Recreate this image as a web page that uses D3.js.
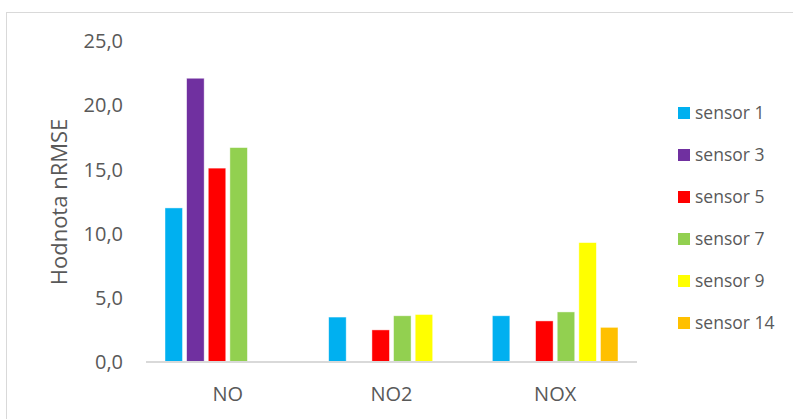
<!DOCTYPE html>
<html>
<head>
<meta charset="utf-8">
<script src="https://cdn.jsdelivr.net/npm/d3@7"></script>
<style>
  body { margin: 0; background: #fff; }
  text { font-family: "Open Sans", "Noto Sans", sans-serif; fill: #595959; }
</style>
</head>
<body>
<svg id="chart" width="793" height="419"></svg>
<script>
// categories and series (null = no bar)
var categories = ["NO", "NO2", "NOX"];
var sensors = ["sensor 1", "sensor 3", "sensor 5", "sensor 7", "sensor 9", "sensor 14"];
var sensor1 = [12.0, 3.5, 3.6];
var sensor3 = [22.1, null, null];
var sensor5 = [15.1, 2.5, 3.2];
var sensor7 = [16.7, 3.6, 3.9];
var sensor9 = [null, 3.7, 9.3];
var sensor14 = [null, null, 2.7];
var yTicks = [0, 5, 10, 15, 20, 25];
var colors = ["#00B0F0", "#7030A0", "#FF0000", "#92D050", "#FFFF00", "#FFC000"];

var series = [sensor1, sensor3, sensor5, sensor7, sensor9, sensor14];

var svg = d3.select("#chart");

// ramecek grafu
svg.append("rect")
    .attr("x", 6.5).attr("y", 12.5)
    .attr("width", 820).attr("height", 430)
    .attr("fill", "none")
    .attr("stroke", "#d9d9d9")
    .attr("stroke-width", 1);

var plotLeft = 146, plotRight = 637, plotTop = 41, plotBottom = 362;

var x0 = d3.scaleBand().domain(categories).range([plotLeft, plotRight]).padding(0);
var pad = 19;
var x1 = d3.scaleBand().domain(sensors)
    .range([pad, x0.bandwidth() - pad])
    .paddingInner(0.19).paddingOuter(0);
var y = d3.scaleLinear().domain([0, 25]).range([plotBottom, plotTop]);
var color = d3.scaleOrdinal().domain(sensors).range(colors);

// popisky osy y
svg.append("g").selectAll("text")
    .data(yTicks)
    .enter().append("text")
    .attr("x", 123)
    .attr("y", function(d) { return y(d); })
    .attr("dy", "0.36em")
    .attr("text-anchor", "end")
    .style("font-size", "20px")
    .text(function(d) { return d3.format(".1f")(d).replace(".", ","); });

// sloupce
var rows = [];
categories.forEach(function(c, ci) {
    sensors.forEach(function(s, si) {
        var v = series[si][ci];
        if (v != null) rows.push({ cat: c, sensor: s, value: v });
    });
});

svg.append("g").selectAll("rect")
    .data(rows)
    .enter().append("rect")
    .attr("x", function(d) { return x0(d.cat) + x1(d.sensor); })
    .attr("y", function(d) { return y(d.value); })
    .attr("width", x1.bandwidth())
    .attr("height", function(d) { return y(0) - y(d.value); })
    .attr("fill", function(d) { return color(d.sensor); })
    .attr("stroke", "#ffffff")
    .attr("stroke-opacity", 0.6)
    .attr("stroke-width", 0.75);

// osa x
svg.append("line")
    .attr("x1", plotLeft).attr("x2", plotRight)
    .attr("y1", plotBottom).attr("y2", plotBottom)
    .attr("stroke", "#d9d9d9")
    .attr("stroke-width", 2);

svg.append("g").selectAll("text")
    .data(categories)
    .enter().append("text")
    .attr("x", function(d) { return x0(d) + x0.bandwidth() / 2; })
    .attr("y", 394)
    .attr("dy", "0.36em")
    .attr("text-anchor", "middle")
    .style("font-size", "20px")
    .text(function(d) { return d; });

// nazev osy y
svg.append("text")
    .attr("transform", "translate(59,202) rotate(-90)")
    .attr("dy", "0.36em")
    .attr("text-anchor", "middle")
    .style("font-size", "22px")
    .text("Hodnota nRMSE");

// legenda
var legend = svg.append("g").selectAll("g")
    .data(sensors)
    .enter().append("g")
    .attr("transform", function(d, i) { return "translate(678," + (113 + i * 42) + ")"; });
legend.append("rect")
    .attr("x", 0).attr("y", -6)
    .attr("width", 12).attr("height", 12)
    .attr("fill", function(d) { return color(d); });
legend.append("text")
    .attr("x", 17).attr("y", 0)
    .attr("dy", "0.36em")
    .style("font-size", "17.5px")
    .text(function(d) { return d; });
</script>
</body>
</html>
